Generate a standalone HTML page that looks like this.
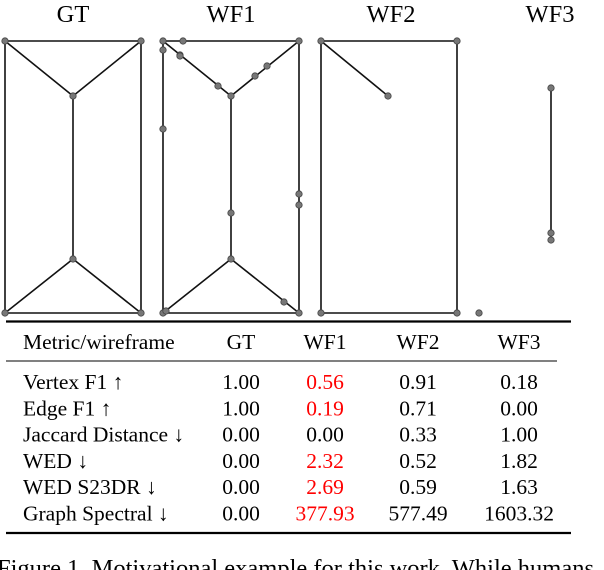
<!DOCTYPE html>
<html><head><meta charset="utf-8">
<style>
body{margin:0;width:604px;height:570px;overflow:hidden;background:#fff;font-family:"Liberation Serif",serif;}
svg{position:absolute;left:0;top:0}
</style></head><body>
<svg width="604" height="570">
<g font-size="24.5" text-anchor="middle" fill="#000">
<text x="73" y="22">GT</text>
<text x="231" y="22">WF1</text>
<text x="391" y="22">WF2</text>
<text x="550" y="22">WF3</text>
</g>
<g id="wf" stroke="#111" stroke-width="1.6" fill="none"></g>
<g id="pts" fill="#777" stroke="#444" stroke-width="0.8"></g>
<g id="tbl" font-size="21.5"></g>
<text x="-3" y="576" font-size="24.5">Figure 1. Motivational example for this work. While humans</text>
</svg>
<script>
const NS="http://www.w3.org/2000/svg";
const gtEdges=[[5,41,141,41],[5,41,5,313],[141,41,141,313],[5,313,141,313],[5,41,73,96],[141,41,73,96],[73,96,73,259],[73,259,5,313],[73,259,141,313]];
const gtPts=[[5,41],[141,41],[73,96],[73,259],[5,313],[141,313]];
const wf1Edges=[[163,41,299,41],[163,41,163,313],[299,41,299,313],[163,313,299,313],[163,41,231,96],[299,41,231,96],[231,96,231,259],[231,259,163,313],[231,259,299,313]];
const wf1Pts=[[163,41],[183,41],[163,50],[180,55],[180,56],[218,86],[231,96],[255,76],[267,66],[299,41],[163,129],[299,194],[299,205],[231,213],[231,259],[163,313],[166,311],[284,302],[299,313]];
const wf2Edges=[[321,41,457,41],[321,41,321,313],[457,41,457,313],[321,313,457,313],[321,41,388,96]];
const wf2Pts=[[321,41],[457,41],[388,96],[321,313],[457,313],[479,313]];
const wf3Edges=[[551,88,551,233]];
const wf3Pts=[[551,88],[551,233],[551,240]];
const wf=document.getElementById('wf'),pts=document.getElementById('pts');
[gtEdges,wf1Edges,wf2Edges,wf3Edges].forEach((es,k)=>es.forEach(e=>{
 const l=document.createElementNS(NS,'line');
 l.setAttribute('x1',e[0]);l.setAttribute('y1',e[1]);l.setAttribute('x2',e[2]);l.setAttribute('y2',e[3]);
 
 
 wf.appendChild(l);}));
[gtPts,wf1Pts,wf2Pts,wf3Pts].forEach(ps=>ps.forEach(p=>{
 const c=document.createElementNS(NS,'circle');
 c.setAttribute('cx',p[0]);c.setAttribute('cy',p[1]);c.setAttribute('r',3.2);
 
 
 pts.appendChild(c);}));
const header=["Metric/wireframe","GT","WF1","WF2","WF3"];
const metrics=["Vertex F1 ↑","Edge F1 ↑","Jaccard Distance ↓","WED ↓","WED S23DR ↓","Graph Spectral ↓"];
const gtVals=["1.00","1.00","0.00","0.00","0.00","0.00"];
const wf1Vals=["0.56","0.19","0.00","2.32","2.69","377.93"];
const wf2Vals=["0.91","0.71","0.33","0.52","0.59","577.49"];
const wf3Vals=["0.18","0.00","1.00","1.82","1.63","1603.32"];
const wf1Red=[true,true,false,true,true,true];
const colX=[241,325,418,519];
const tbl=document.getElementById('tbl');
function txt(x,y,s,anchor,fill,name){const t=document.createElementNS(NS,'text');t.setAttribute('x',x);t.setAttribute('y',y);t.setAttribute('text-anchor',anchor);t.setAttribute('fill',fill);t.textContent=s;


tbl.appendChild(t);}
function rule(x1,x2,y,w,name){const l=document.createElementNS(NS,'line');l.setAttribute('x1',x1);l.setAttribute('x2',x2);l.setAttribute('y1',y);l.setAttribute('y2',y);l.setAttribute('stroke','#000');l.setAttribute('stroke-width',w);


tbl.appendChild(l);}
rule(6,571,321.5,2.2,'top-rule');rule(6,557,361,1,'mid-rule');rule(6,571,533,2.2,'bottom-rule');
txt(23,349,header[0],'start','#000','header-cell');
header.slice(1).forEach((h,i)=>txt(colX[i],349,h,'middle','#000','header-cell'));
metrics.forEach((m,r)=>{const y=389+r*26.3;
 txt(23,y,m,'start','#000','metric-label');
 txt(colX[0],y,gtVals[r],'middle','#000','gt-value');
 txt(colX[1],y,wf1Vals[r],'middle',wf1Red[r]?'#f00':'#000','wf1-value');
 txt(colX[2],y,wf2Vals[r],'middle','#000','wf2-value');
 txt(colX[3],y,wf3Vals[r],'middle','#000','wf3-value');});
</script>
</body></html>
